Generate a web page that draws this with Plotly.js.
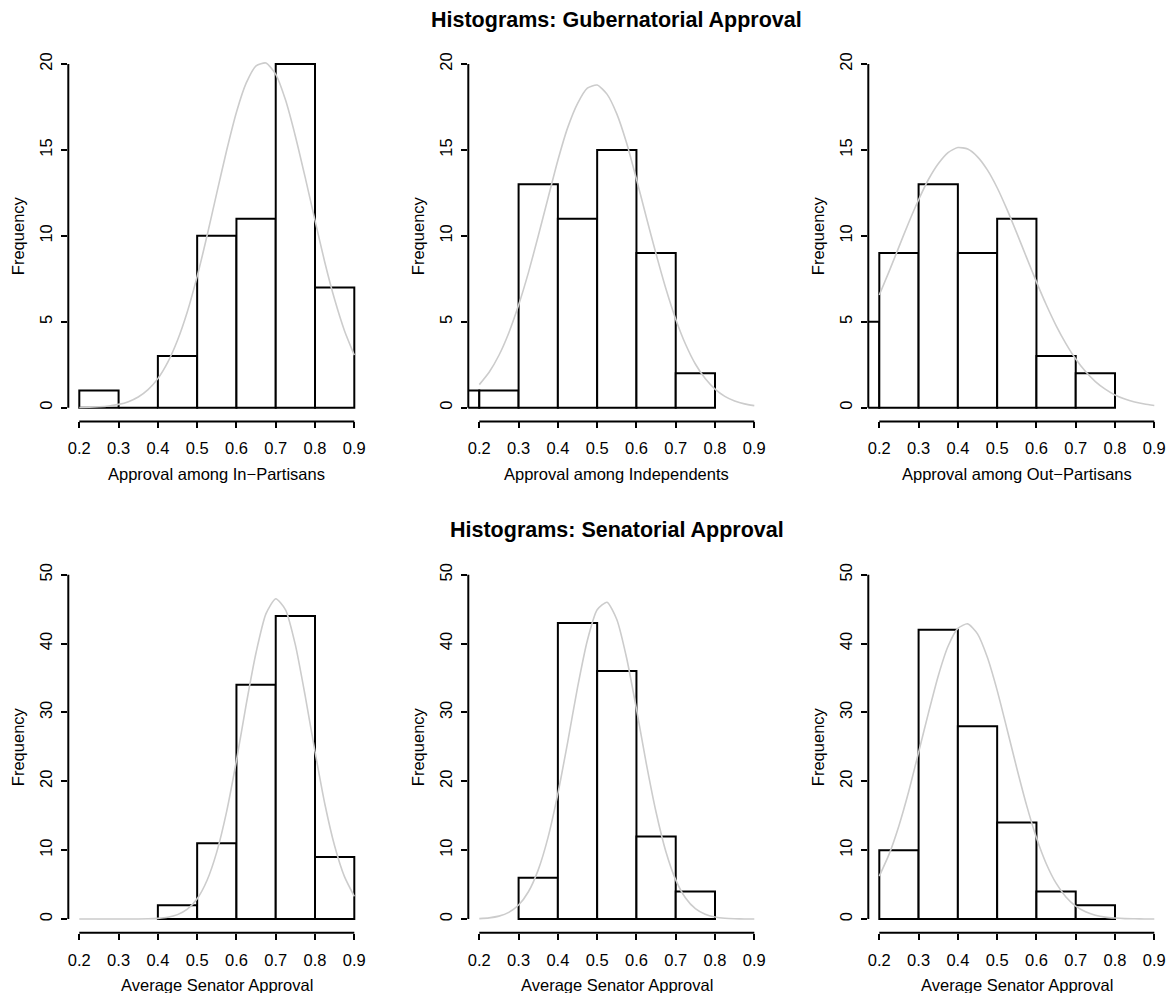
<!DOCTYPE html>
<html>
<head>
<meta charset="utf-8">
<script src="https://cdn.plot.ly/plotly-3.0.1.min.js"></script>
<style>html,body{margin:0;padding:0;background:#fff;}#chart{width:1169px;height:993px;}</style>
</head>
<body>
<div id="chart"></div>
<script>
// ---------- data ----------
const xTickVals = [0.2, 0.3, 0.4, 0.5, 0.6, 0.7, 0.8, 0.9];
const xTickText = ["0.2", "0.3", "0.4", "0.5", "0.6", "0.7", "0.8", "0.9"];
const govTickVals = [0, 5, 10, 15, 20];
const senTickVals = [0, 10, 20, 30, 40, 50];
const binWidth = 0.1;

// Gubernatorial approval histograms (bin start, count)
const inPartBins = [0.2, 0.3, 0.4, 0.5, 0.6, 0.7, 0.8];
const inPartCounts = [1, 0, 3, 10, 11, 20, 7];
const indepBins = [0.1, 0.2, 0.3, 0.4, 0.5, 0.6, 0.7];
const indepCounts = [1, 1, 13, 11, 15, 9, 2];
const outPartBins = [0.1, 0.2, 0.3, 0.4, 0.5, 0.6, 0.7];
const outPartCounts = [5, 9, 13, 9, 11, 3, 2];

// Senatorial approval histograms
const senInBins = [0.4, 0.5, 0.6, 0.7, 0.8];
const senInCounts = [2, 11, 34, 44, 9];
const senIndBins = [0.3, 0.4, 0.5, 0.6, 0.7];
const senIndCounts = [6, 43, 36, 12, 4];
const senOutBins = [0.2, 0.3, 0.4, 0.5, 0.6, 0.7];
const senOutCounts = [10, 42, 28, 14, 4, 2];

// grey density curves
const curveX = [0.2, 0.225, 0.25, 0.275, 0.3, 0.325, 0.35, 0.375, 0.4, 0.425, 0.45, 0.475, 0.5, 0.525, 0.55,
  0.575, 0.6, 0.625, 0.65, 0.675, 0.7, 0.725, 0.75, 0.775, 0.8, 0.825, 0.85, 0.875, 0.9];
const inPartCurve = [0.01, 0.02, 0.05, 0.10, 0.19, 0.35, 0.62, 1.05, 1.69, 2.63, 3.92, 5.58, 7.64, 9.99, 12.5,
  14.97, 17.2, 18.9, 19.9, 20.06, 19.4, 17.9, 15.8, 13.4, 10.9, 8.45, 6.29, 4.48, 3.06];
const indepCurve = [1.34, 2.06, 3.05, 4.35, 5.97, 7.86, 9.99, 12.2, 14.4, 16.3, 17.7, 18.6, 18.78, 18.25, 17.1,
  15.4, 13.3, 11.1, 8.94, 6.92, 5.15, 3.69, 2.54, 1.69, 1.08, 0.66, 0.39, 0.22, 0.12];
const outPartCurve = [6.56, 7.93, 9.36, 10.78, 12.1, 13.28, 14.2, 14.85, 15.14, 15.05, 14.6, 13.84, 12.8, 11.54, 10.16,
  8.73, 7.32, 5.99, 4.78, 3.73, 2.83, 2.10, 1.52, 1.08, 0.74, 0.50, 0.33, 0.21, 0.13];
const senInCurve = [0, 0, 0, 0, 0.001, 0.003, 0.01, 0.03, 0.10, 0.26, 0.64, 1.43, 2.95, 5.60, 9.75,
  15.6, 23.0, 31.2, 38.7, 44.3, 46.5, 44.9, 39.8, 32.4, 24.3, 16.7, 10.6, 6.15, 3.29];
const senIndCurve = [0.06, 0.17, 0.42, 0.96, 2.03, 3.96, 7.14, 11.85, 18.2, 25.7, 33.6, 40.45, 44.9, 46.0, 43.5,
  37.9, 30.5, 22.6, 15.5, 9.77, 5.69, 3.06, 1.51, 0.69, 0.29, 0.11, 0.04, 0.01, 0.00];
const senOutCurve = [6.23, 9.42, 13.56, 18.55, 24.2, 29.9, 35.3, 39.6, 42.2, 42.86, 41.4, 38.0, 33.2, 27.6, 21.9,
  16.5, 11.8, 8.03, 5.20, 3.21, 1.88, 1.05, 0.56, 0.28, 0.14, 0.06, 0.03, 0.01, 0.00];

const govTitle = "Histograms: Gubernatorial Approval";
const senTitle = "Histograms: Senatorial Approval";
const xLabels = ["Approval among In\u2212Partisans", "Approval among Independents", "Approval among Out\u2212Partisans",
  "Average Senator Approval", "Average Senator Approval", "Average Senator Approval"];
const yLabel = "Frequency";

// ---------- layout geometry (pixels) ----------
const W = 1169, H = 993;
const colLeft = [68.3, 468.3, 868.3];
const plotW = 297;
const rowTop = [50.3, 560.9];
const rowBottom = [421.4, 932.8];
const FONT = "Liberation Sans, Arial, Helvetica, sans-serif";

const panels = [
  {bins: inPartBins, counts: inPartCounts, curve: inPartCurve, ticks: govTickVals, row: 0, col: 0},
  {bins: indepBins, counts: indepCounts, curve: indepCurve, ticks: govTickVals, row: 0, col: 1},
  {bins: outPartBins, counts: outPartCounts, curve: outPartCurve, ticks: govTickVals, row: 0, col: 2},
  {bins: senInBins, counts: senInCounts, curve: senInCurve, ticks: senTickVals, row: 1, col: 0},
  {bins: senIndBins, counts: senIndCounts, curve: senIndCurve, ticks: senTickVals, row: 1, col: 1},
  {bins: senOutBins, counts: senOutCounts, curve: senOutCurve, ticks: senTickVals, row: 1, col: 2}
];

const traces = [];
const layout = {
  width: W, height: H,
  margin: {l: 0, r: 0, t: 0, b: 0, pad: 0},
  paper_bgcolor: "#ffffff", plot_bgcolor: "#ffffff",
  showlegend: false,
  font: {family: FONT, size: 16.5, color: "#000"},
  shapes: [], annotations: []
};

const px2x = p => p / W;
const px2y = p => 1 - p / H;

panels.forEach((p, i) => {
  const k = i + 1;
  const xa = "x" + (k > 1 ? k : ""), ya = "y" + (k > 1 ? k : "");
  const xk = "xaxis" + (k > 1 ? k : ""), yk = "yaxis" + (k > 1 ? k : "");
  const xMin = xTickVals[0], xMax = xTickVals[xTickVals.length - 1];
  const yMin = p.ticks[0], yMax = p.ticks[p.ticks.length - 1];
  const xPad = (xMax - xMin) * 0.04, yPad = (yMax - yMin) * 0.04;

  traces.push({
    type: "bar", x: p.bins, y: p.counts, width: binWidth, offset: 0,
    xaxis: xa, yaxis: ya,
    marker: {color: "#ffffff", line: {color: "#000000", width: 2}},
    hoverinfo: "skip"
  });
  traces.push({
    type: "scatter", mode: "lines", x: curveX, y: p.curve,
    xaxis: xa, yaxis: ya,
    line: {color: "#cccccc", width: 1.6, shape: "spline", smoothing: 0.6},
    hoverinfo: "skip", cliponaxis: true
  });

  const left = colLeft[p.col], top = rowTop[p.row], bottom = rowBottom[p.row];
  layout[xk] = {
    domain: [px2x(left), px2x(left + plotW)],
    range: [xMin - xPad, xMax + xPad],
    anchor: ya, showgrid: false, zeroline: false, showline: false,
    tickmode: "array", tickvals: xTickVals, ticktext: xTickText,
    ticks: "outside", ticklen: 6, tickwidth: 2, tickcolor: "#000",
    tickfont: {family: FONT, size: 16.5, color: "#000"},
    ticklabelstandoff: 6,
    fixedrange: true
  };
  layout[yk] = {
    domain: [px2y(bottom), px2y(top)],
    range: [yMin - yPad, yMax + yPad],
    anchor: xa, showgrid: false, zeroline: false, showline: false,
    tickmode: "array", tickvals: p.ticks, ticktext: p.ticks.map(String),
    ticks: "outside", ticklen: 6, tickwidth: 2, tickcolor: "#000",
    tickangle: -90,
    tickfont: {family: FONT, size: 16.5, color: "#000"},
    ticklabelstandoff: 3,
    fixedrange: true
  };
  // R-style axis lines spanning first to last tick
  layout.shapes.push({type: "line", xref: xa, yref: ya + " domain", x0: xMin, x1: xMax, y0: 0, y1: 0,
    line: {color: "#000", width: 2}});
  layout.shapes.push({type: "line", xref: xa + " domain", yref: ya, x0: 0, x1: 0, y0: yMin, y1: yMax,
    line: {color: "#000", width: 2}});

  // axis titles
  layout.annotations.push({text: xLabels[i], xref: "paper", yref: "paper",
    x: px2x(left + plotW / 2), y: px2y(bottom + 52.5), xanchor: "center", yanchor: "middle",
    showarrow: false, font: {family: FONT, size: 16.5, color: "#000"}});
  layout.annotations.push({text: yLabel, xref: "paper", yref: "paper", textangle: -90,
    x: px2x(left - 50), y: px2y((top + bottom) / 2), xanchor: "center", yanchor: "middle",
    showarrow: false, font: {family: FONT, size: 16.5, color: "#000"}});
});

// row titles (centred on the middle panel)
layout.annotations.push({text: "<b>" + govTitle + "</b>", xref: "paper", yref: "paper",
  x: px2x(colLeft[1] + plotW / 2), y: px2y(19.5), xanchor: "center", yanchor: "middle",
  showarrow: false, font: {family: FONT, size: 21.5, color: "#000"}});
layout.annotations.push({text: "<b>" + senTitle + "</b>", xref: "paper", yref: "paper",
  x: px2x(colLeft[1] + plotW / 2), y: px2y(530.1), xanchor: "center", yanchor: "middle",
  showarrow: false, font: {family: FONT, size: 21.5, color: "#000"}});

Plotly.newPlot("chart", traces, layout, {staticPlot: true, displayModeBar: false});
</script>
</body>
</html>
